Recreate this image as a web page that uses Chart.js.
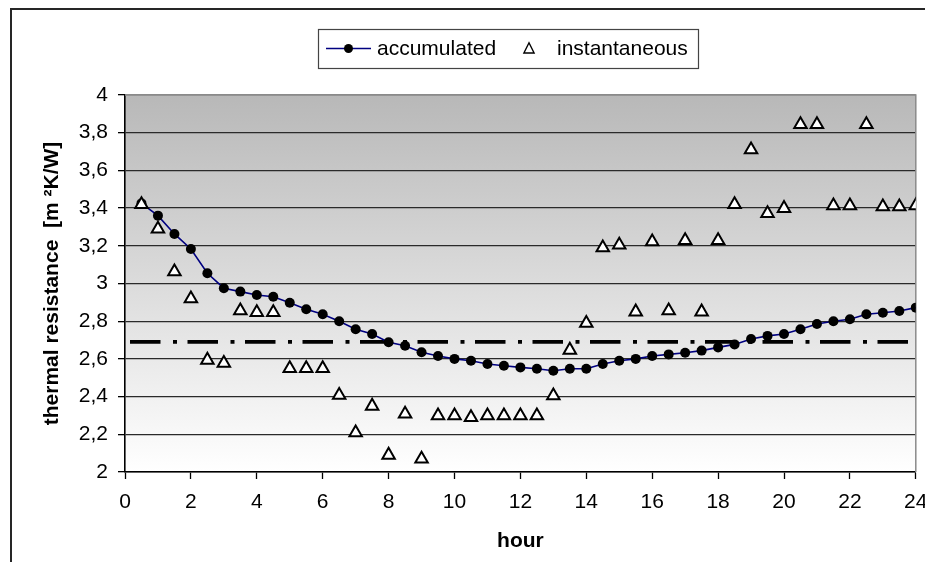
<!DOCTYPE html>
<html>
<head>
<meta charset="utf-8">
<script src="https://cdn.jsdelivr.net/npm/chart.js@4.4.1/dist/chart.umd.min.js"></script>
<style>
html,body{margin:0;padding:0;background:#fff;}
canvas{display:block;}
</style>
</head>
<body>
<canvas id="c" width="925" height="562"></canvas>
<script>
// ---- data ----
const hours = [0.5,1,1.5,2,2.5,3,3.5,4,4.5,5,5.5,6,6.5,7,7.5,8,8.5,9,9.5,10,10.5,11,11.5,12,
               12.5,13,13.5,14,14.5,15,15.5,16,16.5,17,17.5,18,18.5,19,19.5,20,20.5,21,21.5,22,22.5,23,23.5,24];
const accumulated = [3.425,3.36,3.263,3.183,3.054,2.975,2.957,2.939,2.93,2.898,2.863,2.837,2.80,2.757,2.732,2.688,
                     2.67,2.635,2.615,2.60,2.59,2.573,2.564,2.555,2.548,2.537,2.548,2.548,2.573,2.59,2.60,2.615,
                     2.624,2.633,2.644,2.661,2.677,2.706,2.722,2.732,2.757,2.785,2.80,2.81,2.837,2.845,2.854,2.872];
const instantaneous = [3.42,3.29,3.063,2.92,2.594,2.577,2.856,2.847,2.847,2.55,2.55,2.55,2.408,2.209,2.35,2.09,
                       2.308,2.069,2.299,2.299,2.29,2.299,2.299,2.299,2.299,2.405,2.647,2.789,3.19,3.205,2.85,3.222,
                       2.856,3.228,2.85,3.228,3.42,3.71,3.372,3.399,3.844,3.844,3.413,3.413,3.844,3.408,3.408,3.413];
const referenceHours = [0, 24];
const referenceLevel = [2.69, 2.69];
const xTickValues = [0,2,4,6,8,10,12,14,16,18,20,22,24];
const xTickLabels = ['0','2','4','6','8','10','12','14','16','18','20','22','24'];
const yTickValues = [2,2.2,2.4,2.6,2.8,3,3.2,3.4,3.6,3.8,4];
const yTickLabels = ['2','2,2','2,4','2,6','2,8','3','3,2','3,4','3,6','3,8','4'];
const seriesNames = ['accumulated','instantaneous'];
const xTitle = 'hour';
const yTitle = 'thermal resistance  [m \u00B2K/W]';

// ---- build ----
const FONT = "'Liberation Sans', Arial, Helvetica, sans-serif";
const FS = 21;
const toPts = (xs, ys) => xs.map((x, i) => ({x: x, y: ys[i]}));

const bgPlugin = {
  id: 'bg',
  beforeDraw(chart) {
    const {ctx, chartArea: a} = chart;
    ctx.save();
    // outer chart frame
    ctx.strokeStyle = '#262626';
    ctx.lineWidth = 2;
    ctx.strokeRect(11, 9, 2000, 2000);
    // plot area gradient
    const g = ctx.createLinearGradient(0, a.top, 0, a.bottom);
    g.addColorStop(0, '#b8b8b8');
    g.addColorStop(1, '#ffffff');
    ctx.fillStyle = g;
    ctx.fillRect(a.left, a.top, a.right - a.left, a.bottom - a.top);
    ctx.restore();
  },
  beforeDatasetsDraw(chart) {
    const {ctx, chartArea: a} = chart;
    ctx.save();
    ctx.strokeStyle = '#8a8a8a';
    ctx.lineWidth = 1.5;
    ctx.beginPath();
    ctx.moveTo(a.left, a.top);
    ctx.lineTo(a.right, a.top);
    ctx.lineTo(a.right, a.bottom);
    ctx.stroke();
    ctx.restore();
  }
};

const legendPlugin = {
  id: 'customLegend',
  afterDraw(chart) {
    const {ctx} = chart;
    const ds0 = chart.data.datasets[0];
    const ds1 = chart.data.datasets[1];
    const bx = 318, by = 29, bw = 380, bh = 39;
    const cy = by + bh / 2;
    ctx.save();
    ctx.fillStyle = '#ffffff';
    ctx.fillRect(bx, by, bw, bh);
    ctx.strokeStyle = '#444';
    ctx.lineWidth = 1.2;
    ctx.strokeRect(bx + 0.5, by + 0.5, bw, bh);
    // accumulated sample
    ctx.strokeStyle = ds0.borderColor;
    ctx.lineWidth = ds0.borderWidth;
    ctx.beginPath();
    ctx.moveTo(326, cy);
    ctx.lineTo(371, cy);
    ctx.stroke();
    ctx.fillStyle = '#000';
    ctx.beginPath();
    ctx.arc(348.5, cy, 4.5, 0, Math.PI * 2);
    ctx.fill();
    ctx.font = FS + 'px ' + FONT;
    ctx.textBaseline = 'middle';
    ctx.textAlign = 'left';
    ctx.fillStyle = '#000';
    ctx.fillText(ds0.label, 377, cy + 1);
    // instantaneous sample (triangle)
    const tx = 529, r = 6;
    ctx.beginPath();
    ctx.moveTo(tx, cy - r * 0.95);
    ctx.lineTo(tx + r * 0.85, cy + r * 0.75);
    ctx.lineTo(tx - r * 0.85, cy + r * 0.75);
    ctx.closePath();
    ctx.fillStyle = '#fff';
    ctx.fill();
    ctx.strokeStyle = '#000';
    ctx.lineWidth = 1.4;
    ctx.stroke();
    ctx.fillStyle = '#000';
    ctx.fillText(ds1.label, 557, cy + 1);
    ctx.restore();
  }
};

new Chart(document.getElementById('c'), {
  type: 'line',
  data: {
    datasets: [
      {
        label: seriesNames[0],
        data: toPts(hours, accumulated),
        borderColor: '#000080',
        borderWidth: 1.6,
        pointRadius: 5,
        pointHoverRadius: 5,
        pointBackgroundColor: '#000',
        pointBorderColor: '#000',
        pointBorderWidth: 0,
        tension: 0,
        order: 2
      },
      {
        label: seriesNames[1],
        data: toPts(hours, instantaneous),
        showLine: false,
        pointStyle: 'triangle',
        pointRadius: 7.2,
        pointHoverRadius: 7.2,
        pointBackgroundColor: '#fff',
        pointBorderColor: '#000',
        pointBorderWidth: 2,
        order: 1
      },
      {
        label: 'reference',
        data: toPts(referenceHours, referenceLevel),
        borderColor: '#000',
        borderWidth: 3.8,
        borderDash: [30.5, 12.5, 4, 10.5],
        borderDashOffset: 52.5,
        borderCapStyle: 'butt',
        pointRadius: 0,
        order: 3
      }
    ]
  },
  options: {
    responsive: false,
    animation: false,
    events: [],
    layout: {padding: {top: 95, right: 7, bottom: 0, left: 0}},
    plugins: {legend: {display: false}, tooltip: {enabled: false}},
    scales: {
      x: {
        type: 'linear',
        min: 0, max: 24,
        afterBuildTicks: s => { s.ticks = xTickValues.map(v => ({value: v})); },
        afterFit: s => { s.height = 90; s.paddingLeft = 0; s.paddingRight = 0; },
        ticks: {
          callback: (v, i) => xTickLabels[i],
          color: '#000',
          font: {family: FONT, size: FS},
          padding: 11,
          maxRotation: 0,
          autoSkip: false
        },
        grid: {drawOnChartArea: false, drawTicks: true, tickLength: 7, tickColor: '#000', tickWidth: 1.3},
        border: {display: true, color: '#000', width: 1.6},
        title: {
          display: true, text: xTitle, color: '#000',
          font: {family: FONT, size: FS, weight: 'bold'},
          padding: {top: 0, bottom: 8}
        }
      },
      y: {
        type: 'linear',
        min: 2, max: 4,
        afterBuildTicks: s => { s.ticks = yTickValues.map(v => ({value: v})); },
        afterFit: s => { s.width = 125; s.paddingTop = 0; s.paddingBottom = 0; },
        ticks: {
          callback: (v, i) => yTickLabels[i],
          color: '#000',
          font: {family: FONT, size: FS},
          padding: 10,
          autoSkip: false
        },
        grid: {
          drawOnChartArea: true, drawTicks: true, tickLength: 7,
          color: ctx => (ctx.tick && ctx.tick.value === 4) ? '#8a8a8a' : '#2a2a2a',
          lineWidth: 1.3, tickColor: '#000', tickWidth: 1.3
        },
        border: {display: true, color: '#000', width: 1.6},
        title: {
          display: true, text: yTitle, color: '#000',
          font: {family: FONT, size: FS, weight: 'bold'},
          padding: {top: 40, bottom: 0}
        }
      }
    }
  },
  plugins: [bgPlugin, legendPlugin]
});
</script>
</body>
</html>
